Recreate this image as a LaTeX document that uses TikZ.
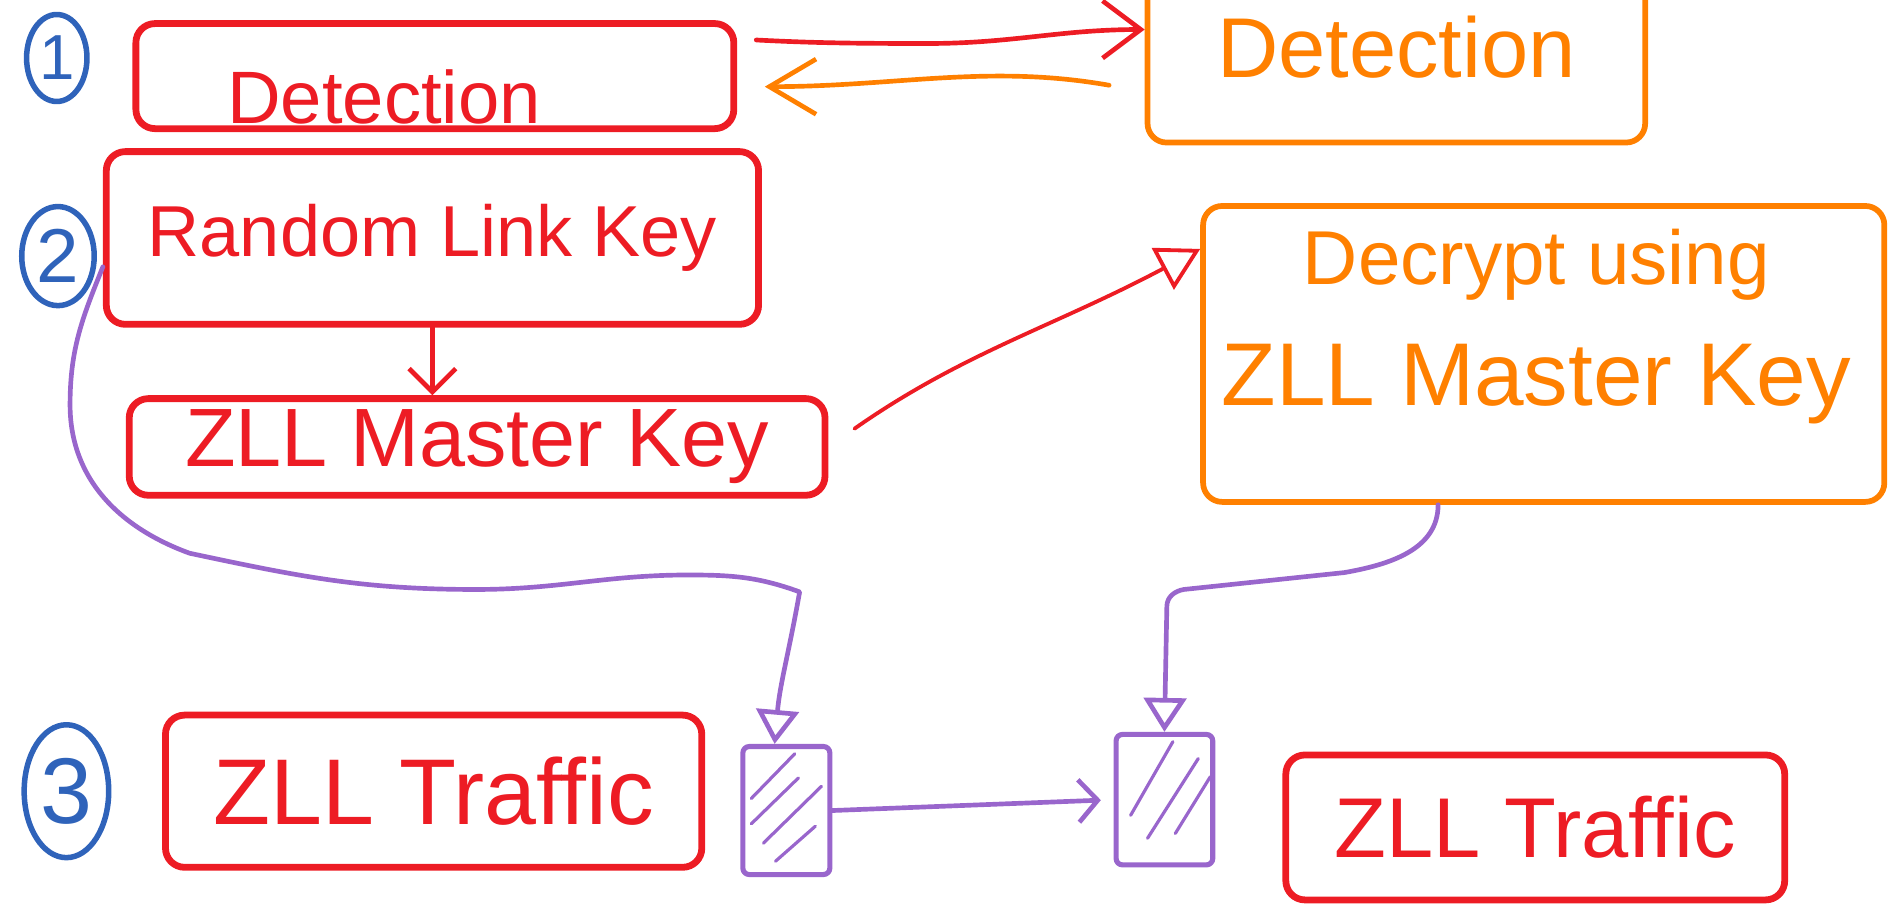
\documentclass[tikz,border=0pt]{standalone}
\usepackage{fontspec}
\setmainfont{Liberation Sans}
\usepackage{tikz}
\usetikzlibrary{arrows.meta,calc,shapes.geometric}

\definecolor{penred}{HTML}{ED1C24}
\definecolor{penorange}{HTML}{FF8000}
\definecolor{penpurple}{HTML}{9966CC}
\definecolor{penblue}{HTML}{2F63BA}
\def\pu{0.02cm}

\begin{document}
\begin{tikzpicture}[x=\pu, y=\pu, >=Stealth, line cap=round, line join=round,
    redbox/.style={draw=penred, text=penred, line width=3.2pt, rounded corners=9pt},
    orangebox/.style={draw=penorange, text=penorange, line width=2.7pt, rounded corners=9pt},
    hatchbox/.style={draw=penpurple, line width=2.4pt, rounded corners=3pt},
    stepno/.style={ellipse, draw=penblue, text=penblue, line width=2.6pt, inner sep=0pt},
    boxsize/.style 2 args={minimum width=#1*\pu, minimum height=#2*\pu},
    fsize/.style={font=\fontsize{#1}{#1}\selectfont},
    redline/.style={draw=penred, line width=2.2pt},
    orangeline/.style={draw=penorange, line width=2.2pt},
    purpleline/.style={draw=penpurple, line width=2.2pt},
    hatch/.style={draw=penpurple, line width=1.5pt}]

    \useasboundingbox (0,0) rectangle (1568,-752);
    \clip (0,0) rectangle (1568,-752);

    % 步骤编号
    \node[stepno, minimum width=50*\pu, minimum height=72*\pu, fsize=30] (n1) at (47,-48) {1};
    \node[stepno, minimum width=60*\pu, minimum height=82*\pu, fsize=36] (n2) at (48,-212) {2};
    \node[stepno, minimum width=70*\pu, minimum height=110*\pu, fsize=44] (n3) at (55,-655) {3};

    % 左侧红色方框
    \node[redbox, boxsize={495}{87},
          label={[text=penred, fsize=35, xshift=-42*\pu, yshift=-17*\pu]center:Detection}] (det1) at (360,-63) {};
    \node[redbox, boxsize={540}{143}, fsize=34] (rlk) at (358,-197) {Random Link Key};
    \node[redbox, boxsize={576}{80}, fsize=39] (zmk) at (395,-370) {ZLL Master Key};

    % 右侧橙色方框
    \node[orangebox, boxsize={412}{158}, fsize=40] (det2) at (1156,-39) {Detection};
    \node[orangebox, boxsize={564}{245},
          label={[text=penorange, align=center, font=\fontsize{36}{57}\selectfont, xshift=-6*\pu, yshift=23*\pu]center:Decrypt using\\\fontsize{42}{57}\selectfont ZLL Master Key}] (dec) at (1278,-293) {};

    % 底部红色方框
    \node[redbox, boxsize={444}{126}, fsize=44] (trl) at (359,-655) {ZLL Traffic};
    \node[redbox, boxsize={413}{120}, fsize=40] (trr) at (1271,-685) {ZLL Traffic};

    % 紫色数据块及阴影线
    \node[hatchbox, boxsize={72}{106}] (pl) at (651,-671) {};
    \node[hatchbox, boxsize={80}{108}] (pr) at (964,-662) {};
    \foreach \a/\b/\c/\d in {-29/10/7/47, -29/-11/10/27, -19/-27/29/20, -9/-42/24/-13} {
        \draw[hatch] ([shift={(\a,\b)}]pl.center) -- ([shift={(\c,\d)}]pl.center);
    }
    \foreach \a/\b/\c/\d in {-28/-13/7/48, -14/-32/28/34, 9/-28/38/19} {
        \draw[hatch] ([shift={(\a,\b)}]pr.center) -- ([shift={(\c,\d)}]pr.center);
    }

    % 红色箭头
    \draw[redline, -{Straight Barb[length=11pt,width=22pt]}] (rlk.south) -- (rlk.south |- zmk.north);
    \draw[redline, -{Straight Barb[length=18pt,width=27pt]}, shorten <=9pt]
        (det1.7) to[out=-3,in=180] (768,-36) to[out=0,in=180] (det2.176);
    \draw[redline, line width=1.8pt, -{Triangle[open,length=20pt,width=22pt]}, shorten <=15pt]
        (zmk.east) to[out=35,in=208] (dec.163);

    % 橙色箭头
    \draw[orangeline, -{Straight Barb[length=22pt,width=26pt]}, shorten <=17pt, shorten >=13pt]
        (det2.190) to[out=170,in=0] (det1.-2);

    % 紫色箭头
    \draw[purpleline, -{Triangle[open,length=16pt,width=20pt]}]
        (rlk.185) to[out=-112,in=90] (58,-335) to[out=-90,in=160] (157,-458)
        to[out=-12,in=180] (394,-488) to[out=0,in=180] (570,-476)
        to[out=0,in=160] (662,-490) to[out=-100,in=85] (pl.100);
    \draw[purpleline, -{Triangle[open,length=16pt,width=20pt]}]
        (dec.-125) to[out=-90,in=10] (1113,-474) -- (980,-488)
        to[out=190,in=90] (966,-502) -- (pr.north);
    \draw[purpleline, -{Straight Barb[length=9pt,width=20pt]}, shorten >=6pt] (pl.east) -- (pr.west);
\end{tikzpicture}
\end{document}
